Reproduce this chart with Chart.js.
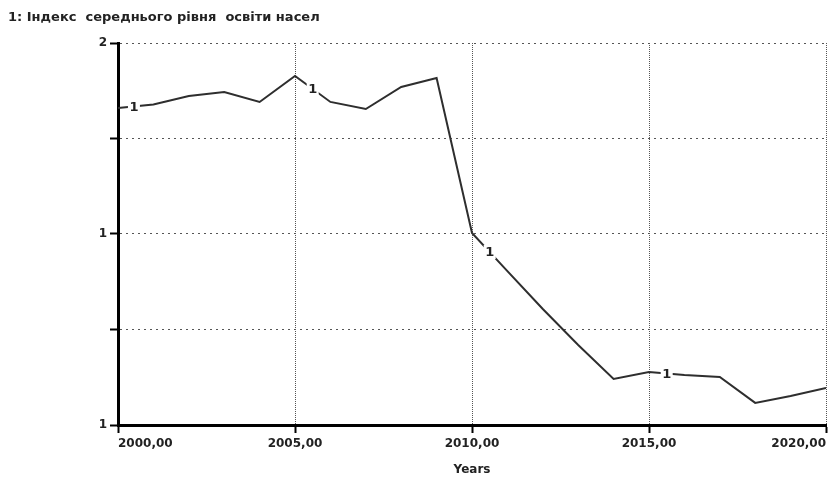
<!DOCTYPE html>
<html>
<head>
<meta charset="utf-8">
<script src="https://cdn.jsdelivr.net/npm/chart.js@4.4.1/dist/chart.umd.min.js"></script>
<style>
  body { margin: 0; background: #fff; }
  canvas { display: block; }
</style>
</head>
<body>
<canvas id="eduChart" width="834" height="477"></canvas>
<script>
// Index of the average education level, yearly model output
const years = [2000, 2001, 2002, 2003, 2004, 2005, 2006, 2007, 2008, 2009, 2010,
               2011, 2012, 2013, 2014, 2015, 2016, 2017, 2018, 2019, 2020];
const eduIndex = [1.762, 1.775, 1.806, 1.820, 1.784, 1.879, 1.784, 1.758, 1.839, 1.872, 1.304,
                  1.164, 1.025, 0.893, 0.769, 0.794, 0.783, 0.776, 0.681, 0.706, 0.736];

const seriesTitle = '1: Індекс  середнього рівня  освіти насел';
const axisTitle = 'Years';
const yTickValues = [0.6, 0.95, 1.3, 1.65, 2.0];
const yTickLabels = ['1', '', '1', '', '2'];
// where the curve number "1" is written along the line
const curveMarkYears = [2000.45, 2005.5, 2010.5, 2015.5];

const labelFont = { family: '"DejaVu Sans", sans-serif', size: 12, weight: 'bold' };

const headerTitle = {
    id: 'headerTitle',
    afterDraw(chart) {
        const ctx = chart.ctx;
        ctx.save();
        ctx.font = 'bold 13px "DejaVu Sans", sans-serif';
        ctx.fillStyle = '#222';
        ctx.textBaseline = 'alphabetic';
        ctx.fillText(seriesTitle, 8, 21);
        ctx.restore();
    }
};

const curveMarks = {
    id: 'curveMarks',
    afterDatasetsDraw(chart) {
        const {ctx, scales: {x, y}} = chart;
        ctx.save();
        ctx.font = 'bold 13px "DejaVu Sans", sans-serif';
        ctx.textAlign = 'center';
        ctx.textBaseline = 'middle';
        curveMarkYears.forEach(yr => {
            const i = Math.min(Math.floor(yr - years[0]), years.length - 2);
            const t = yr - years[i];
            const v = eduIndex[i] + (eduIndex[i + 1] - eduIndex[i]) * t;
            const px = x.getPixelForValue(yr);
            const py = y.getPixelForValue(v);
            ctx.fillStyle = '#fff';
            ctx.fillRect(px - 6, py - 7, 12, 14);
            ctx.fillStyle = '#222';
            ctx.fillText('1', px, py + 1);
        });
        ctx.restore();
    }
};

new Chart(document.getElementById('eduChart'), {
    type: 'line',
    data: {
        datasets: [{
            data: years.map((yr, i) => ({ x: yr, y: eduIndex[i] })),
            borderColor: '#2e2e2e',
            borderWidth: 2,
            pointRadius: 0,
            tension: 0,
            fill: false
        }]
    },
    options: {
        responsive: false,
        animation: false,
        layout: { padding: { top: 43, right: 8, left: 0, bottom: 0 } },
        plugins: {
            legend: { display: false },
            tooltip: { enabled: false }
        },
        scales: {
            x: {
                type: 'linear',
                min: 2000,
                max: 2020,
                ticks: {
                    stepSize: 5,
                    align: 'inner',
                    padding: 4,
                    maxRotation: 0,
                    color: '#222',
                    font: labelFont,
                    callback: v => v.toFixed(2).replace('.', ',')
                },
                grid: {
                    color: c => c.index === 0 ? 'rgba(0,0,0,0)' : '#555',
                    tickColor: '#000',
                    tickWidth: 2,
                    tickLength: 8
                },
                border: { color: '#000', width: 3, dash: [1, 1] },
                title: { display: true, text: axisTitle, color: '#222', font: labelFont, padding: 0 },
                afterFit(s) { s.height = 52; s.paddingLeft = 0; s.paddingRight = 0; }
            },
            y: {
                min: 0.6,
                max: 2.0,
                afterBuildTicks(s) { s.ticks = yTickValues.map(v => ({ value: v })); },
                ticks: {
                    padding: 3,
                    color: '#222',
                    font: labelFont,
                    callback: (v, i) => yTickLabels[i]
                },
                grid: {
                    color: c => c.index === 0 ? 'rgba(0,0,0,0)' : '#555',
                    tickColor: '#000',
                    tickWidth: 2,
                    tickLength: 8
                },
                border: { color: '#000', width: 3, dash: [2, 4] },
                afterFit(s) { s.width = 118; s.paddingTop = 0; s.paddingBottom = 0; }
            }
        }
    },
    plugins: [headerTitle, curveMarks]
});
</script>
</body>
</html>
